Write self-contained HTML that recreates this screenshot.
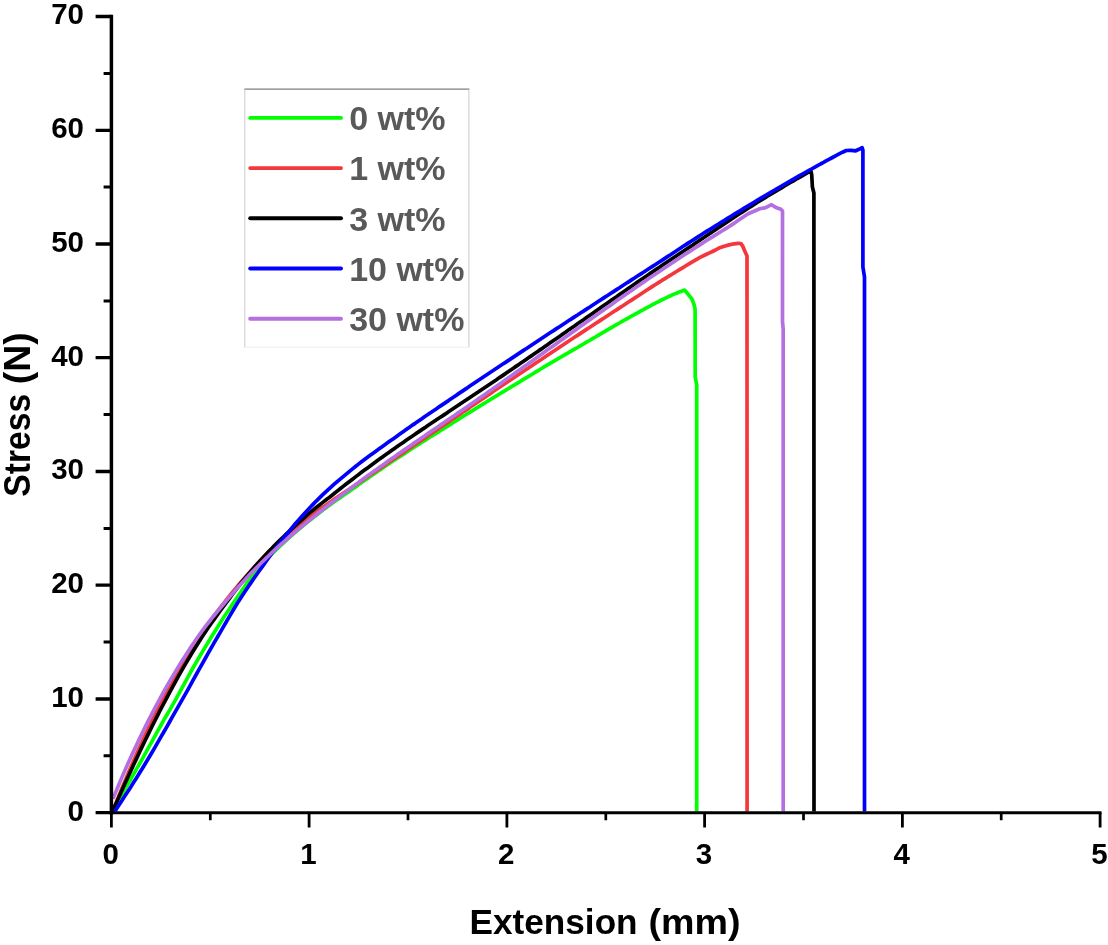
<!DOCTYPE html>
<html lang="en"><head><meta charset="utf-8"><title>Stress vs Extension</title>
<style>
html,body{margin:0;padding:0;background:#fff;}
svg{display:block;}
text{font-family:'Liberation Sans',Arial,Helvetica,sans-serif;font-weight:bold;}
.tick{font-size:29.8px;fill:#000;}
.title{font-size:35.8px;fill:#000;}
.ytitle{font-size:36.8px;fill:#000;}
.leg{font-size:33.4px;fill:#595959;}
</style></head><body>
<svg width="1108" height="945" viewBox="0 0 1108 945">
<rect width="1108" height="945" fill="#fff"/>

<defs><clipPath id="plotclip"><rect x="112.2" y="10" width="990" height="801.6"/></clipPath></defs>
<g fill="none" stroke-linejoin="round" stroke-linecap="butt" clip-path="url(#plotclip)">
<path d="M112.5,810.3 L115.5,805.3 L118.5,800.1 L121.5,795.0 L124.5,789.9 L127.5,784.8 L130.5,779.6 L133.5,774.4 L136.5,769.2 L139.5,763.9 L142.5,758.6 L145.5,753.2 L148.5,747.7 L151.5,742.3 L154.5,736.8 L157.5,731.4 L160.5,726.0 L163.5,720.7 L166.5,715.5 L169.5,710.3 L172.5,705.1 L175.5,699.9 L178.5,694.4 L181.5,688.8 L184.5,683.3 L187.5,677.8 L190.5,672.4 L193.5,667.0 L196.5,661.8 L199.5,656.7 L202.5,651.6 L205.5,646.6 L208.5,641.7 L211.5,636.8 L214.5,632.0 L217.5,627.2 L220.5,622.4 L223.5,617.8 L226.5,613.2 L229.5,608.7 L232.5,604.3 L235.5,599.9 L238.5,595.5 L241.5,591.1 L244.5,586.8 L247.5,582.7 L250.5,578.6 L253.5,574.7 L256.5,570.9 L259.5,567.2 L262.5,563.6 L265.5,560.4 L268.5,557.3 L271.5,554.3 L274.5,551.4 L277.5,548.5 L280.5,545.7 L283.5,542.9 L286.5,540.1 L289.5,537.4 L292.5,534.7 L295.5,532.1 L298.5,529.5 L301.5,527.0 L304.5,524.5 L307.5,522.1 L310.5,519.7 L313.5,517.3 L316.5,515.0 L319.5,512.7 L322.5,510.4 L325.5,508.2 L328.5,505.9 L331.5,503.8 L334.5,501.6 L337.5,499.5 L340.5,497.4 L343.5,495.3 L346.5,493.3 L349.5,491.2 L352.5,489.1 L355.5,486.9 L358.5,484.8 L361.5,482.6 L364.5,480.5 L367.5,478.4 L370.5,476.3 L373.5,474.2 L376.5,472.2 L379.5,470.1 L382.5,468.1 L385.5,466.0 L388.5,464.0 L391.5,462.0 L394.5,460.0 L397.5,458.0 L400.5,456.1 L403.5,454.1 L406.5,452.1 L409.5,450.2 L412.5,448.3 L415.5,446.3 L418.5,444.4 L421.5,442.5 L424.5,440.6 L427.5,438.7 L430.5,436.8 L433.5,434.9 L436.5,433.1 L439.5,431.2 L442.5,429.3 L445.5,427.5 L448.5,425.6 L451.5,423.7 L454.5,421.8 L457.5,419.9 L460.5,418.0 L463.5,416.2 L466.5,414.3 L469.5,412.4 L472.5,410.6 L475.5,408.7 L478.5,406.9 L481.5,405.0 L484.5,403.2 L487.5,401.3 L490.5,399.5 L493.5,397.7 L496.5,395.8 L499.5,394.0 L502.5,392.2 L505.5,390.4 L508.5,388.5 L511.5,386.7 L514.5,384.9 L517.5,383.1 L520.5,381.3 L523.5,379.4 L526.5,377.6 L529.5,375.8 L532.5,374.0 L535.5,372.2 L538.5,370.4 L541.5,368.5 L544.5,366.7 L547.5,364.9 L550.5,363.1 L553.5,361.4 L556.5,359.6 L559.5,357.9 L562.5,356.2 L565.5,354.4 L568.5,352.7 L571.5,350.9 L574.5,349.2 L577.5,347.5 L580.5,345.7 L583.5,344.0 L586.5,342.2 L589.5,340.5 L592.5,338.7 L595.5,337.0 L598.5,335.2 L601.5,333.4 L604.5,331.7 L607.5,329.9 L610.5,328.2 L613.5,326.4 L616.5,324.7 L619.5,323.0 L622.5,321.2 L625.5,319.5 L628.5,317.9 L631.5,316.2 L634.5,314.5 L637.5,312.9 L640.5,311.2 L643.5,309.6 L646.5,307.9 L649.5,306.3 L652.5,304.7 L655.5,303.1 L658.5,301.6 L661.5,300.0 L664.5,298.6 L667.5,297.1 L670.5,295.7 L673.5,294.4 L676.5,293.2 L679.5,291.9 L681.4,291.2 L684.6,290.1 L687.7,293.8 L692.0,299.1 L694.1,304.9 L695.1,309.2 L695.2,377.0 L696.7,385.0 L696.7,812.0" stroke="#00ff00" stroke-width="3.7"/>
<path d="M112.5,811.9 L115.5,804.2 L118.5,796.7 L121.5,789.3 L124.5,782.1 L127.5,774.9 L130.5,767.9 L133.5,761.0 L136.5,754.2 L139.5,747.5 L142.5,741.0 L145.5,734.5 L148.5,728.2 L151.5,722.0 L154.5,715.8 L157.5,709.8 L160.5,703.9 L163.5,698.1 L166.5,692.5 L169.5,686.9 L172.5,681.4 L175.5,676.0 L178.5,670.7 L181.5,665.5 L184.5,660.4 L187.5,655.5 L190.5,650.6 L193.5,645.8 L196.5,641.1 L199.5,636.4 L202.5,632.0 L205.5,627.7 L208.5,623.5 L211.5,619.3 L214.5,615.2 L217.5,611.3 L220.5,607.4 L223.5,603.6 L226.5,599.7 L229.5,596.0 L232.5,592.2 L235.5,588.6 L238.5,585.0 L241.5,581.5 L244.5,578.1 L247.5,574.7 L250.5,571.4 L253.5,568.0 L256.5,564.7 L259.5,561.4 L262.5,558.2 L265.5,555.1 L268.5,552.0 L271.5,549.0 L274.5,546.3 L277.5,543.5 L280.5,540.8 L283.5,538.2 L286.5,535.6 L289.5,533.1 L292.5,530.6 L295.5,528.1 L298.5,525.7 L301.5,523.3 L304.5,520.9 L307.5,518.6 L310.5,516.3 L313.5,514.1 L316.5,511.8 L319.5,509.6 L322.5,507.5 L325.5,505.4 L328.5,503.3 L331.5,501.2 L334.5,499.1 L337.5,497.1 L340.5,495.1 L343.5,493.1 L346.5,491.1 L349.5,489.1 L352.5,487.0 L355.5,485.0 L358.5,482.9 L361.5,480.9 L364.5,478.8 L367.5,476.8 L370.5,474.8 L373.5,472.7 L376.5,470.7 L379.5,468.7 L382.5,466.6 L385.5,464.6 L388.5,462.5 L391.5,460.5 L394.5,458.5 L397.5,456.4 L400.5,454.4 L403.5,452.4 L406.5,450.3 L409.5,448.3 L412.5,446.2 L415.5,444.2 L418.5,442.2 L421.5,440.1 L424.5,438.1 L427.5,436.1 L430.5,434.0 L433.5,432.0 L436.5,430.0 L439.5,428.0 L442.5,425.9 L445.5,423.9 L448.5,421.9 L451.5,419.8 L454.5,417.8 L457.5,415.7 L460.5,413.7 L463.5,411.6 L466.5,409.6 L469.5,407.6 L472.5,405.5 L475.5,403.5 L478.5,401.5 L481.5,399.4 L484.5,397.4 L487.5,395.4 L490.5,393.4 L493.5,391.3 L496.5,389.3 L499.5,387.3 L502.5,385.3 L505.5,383.3 L508.5,381.3 L511.5,379.2 L514.5,377.2 L517.5,375.2 L520.5,373.2 L523.5,371.2 L526.5,369.2 L529.5,367.2 L532.5,365.2 L535.5,363.2 L538.5,361.3 L541.5,359.3 L544.5,357.3 L547.5,355.3 L550.5,353.3 L553.5,351.3 L556.5,349.3 L559.5,347.3 L562.5,345.3 L565.5,343.3 L568.5,341.3 L571.5,339.3 L574.5,337.3 L577.5,335.4 L580.5,333.4 L583.5,331.4 L586.5,329.4 L589.5,327.5 L592.5,325.5 L595.5,323.5 L598.5,321.6 L601.5,319.6 L604.5,317.7 L607.5,315.7 L610.5,313.8 L613.5,311.8 L616.5,309.9 L619.5,307.9 L622.5,306.0 L625.5,304.0 L628.5,302.0 L631.5,300.1 L634.5,298.1 L637.5,296.2 L640.5,294.2 L643.5,292.3 L646.5,290.3 L649.5,288.4 L652.5,286.4 L655.5,284.5 L658.5,282.6 L661.5,280.7 L664.5,278.9 L667.5,277.0 L670.5,275.2 L673.5,273.3 L676.5,271.5 L679.5,269.7 L682.5,267.9 L685.5,266.0 L688.5,264.2 L691.5,262.4 L694.5,260.6 L697.5,258.8 L700.5,257.1 L703.5,255.7 L706.5,254.3 L709.5,252.9 L712.5,251.5 L715.5,250.0 L718.5,248.3 L719.0,248.0 L724.2,246.2 L729.0,244.9 L734.2,243.8 L738.0,243.3 L740.8,243.5 L742.6,245.8 L744.3,250.0 L747.0,256.0 L747.1,812.0" stroke="#f4373d" stroke-width="3.7"/>
<path d="M112.5,811.6 L115.5,804.8 L118.5,798.0 L121.5,791.3 L124.5,784.6 L127.5,778.0 L130.5,771.4 L133.5,765.0 L136.5,758.6 L139.5,752.2 L142.5,745.9 L145.5,739.7 L148.5,733.6 L151.5,727.5 L154.5,721.5 L157.5,715.6 L160.5,709.7 L163.5,704.0 L166.5,698.3 L169.5,692.6 L172.5,687.1 L175.5,681.6 L178.5,676.2 L181.5,670.9 L184.5,665.7 L187.5,660.6 L190.5,655.5 L193.5,650.5 L196.5,645.7 L199.5,640.9 L202.5,636.3 L205.5,631.7 L208.5,627.3 L211.5,623.0 L214.5,618.8 L217.5,614.6 L220.5,610.5 L223.5,606.5 L226.5,602.4 L229.5,598.3 L232.5,594.2 L235.5,590.3 L238.5,586.3 L241.5,582.5 L244.5,578.7 L247.5,575.1 L250.5,571.6 L253.5,568.2 L256.5,564.8 L259.5,561.5 L262.5,558.2 L265.5,555.0 L268.5,551.8 L271.5,548.7 L274.5,545.6 L277.5,542.6 L280.5,539.7 L283.5,536.7 L286.5,533.8 L289.5,531.0 L292.5,528.2 L295.5,525.4 L298.5,522.7 L301.5,520.0 L304.5,517.3 L307.5,514.7 L310.5,512.1 L313.5,509.7 L316.5,507.3 L319.5,505.0 L322.5,502.6 L325.5,500.3 L328.5,498.1 L331.5,495.7 L334.5,493.3 L337.5,490.9 L340.5,488.5 L343.5,486.1 L346.5,483.8 L349.5,481.5 L352.5,479.2 L355.5,476.9 L358.5,474.6 L361.5,472.3 L364.5,470.1 L367.5,467.9 L370.5,465.7 L373.5,463.5 L376.5,461.3 L379.5,459.1 L382.5,456.9 L385.5,454.8 L388.5,452.7 L391.5,450.5 L394.5,448.4 L397.5,446.3 L400.5,444.2 L403.5,442.2 L406.5,440.1 L409.5,438.0 L412.5,436.0 L415.5,433.9 L418.5,431.9 L421.5,429.9 L424.5,427.9 L427.5,425.8 L430.5,423.8 L433.5,421.8 L436.5,419.8 L439.5,417.8 L442.5,415.9 L445.5,413.9 L448.5,411.8 L451.5,409.8 L454.5,407.8 L457.5,405.8 L460.5,403.8 L463.5,401.8 L466.5,399.8 L469.5,397.8 L472.5,395.8 L475.5,393.8 L478.5,391.8 L481.5,389.7 L484.5,387.7 L487.5,385.7 L490.5,383.7 L493.5,381.7 L496.5,379.7 L499.5,377.6 L502.5,375.6 L505.5,373.6 L508.5,371.5 L511.5,369.5 L514.5,367.4 L517.5,365.4 L520.5,363.3 L523.5,361.3 L526.5,359.2 L529.5,357.1 L532.5,355.1 L535.5,353.0 L538.5,350.9 L541.5,348.9 L544.5,346.8 L547.5,344.7 L550.5,342.6 L553.5,340.5 L556.5,338.5 L559.5,336.4 L562.5,334.3 L565.5,332.2 L568.5,330.1 L571.5,328.0 L574.5,325.9 L577.5,323.8 L580.5,321.7 L583.5,319.7 L586.5,317.6 L589.5,315.5 L592.5,313.4 L595.5,311.3 L598.5,309.2 L601.5,307.1 L604.5,305.0 L607.5,302.9 L610.5,300.8 L613.5,298.7 L616.5,296.7 L619.5,294.6 L622.5,292.5 L625.5,290.4 L628.5,288.3 L631.5,286.3 L634.5,284.2 L637.5,282.1 L640.5,280.0 L643.5,278.0 L646.5,276.0 L649.5,273.9 L652.5,271.9 L655.5,269.9 L658.5,267.9 L661.5,265.8 L664.5,263.8 L667.5,261.8 L670.5,259.8 L673.5,257.8 L676.5,255.8 L679.5,253.8 L682.5,251.8 L685.5,249.8 L688.5,247.9 L691.5,245.9 L694.5,243.8 L697.5,241.8 L700.5,239.7 L703.5,237.7 L706.5,235.7 L709.5,233.7 L712.5,231.7 L715.5,229.7 L718.5,227.7 L721.5,225.7 L724.5,223.7 L727.5,221.7 L730.5,219.7 L733.5,217.8 L736.5,215.8 L739.5,213.8 L742.5,211.9 L745.5,210.0 L748.5,208.0 L751.5,206.1 L754.5,204.2 L757.5,202.3 L760.5,200.4 L763.5,198.6 L766.5,196.8 L769.5,194.9 L772.5,193.1 L775.5,191.3 L778.5,189.6 L781.5,187.8 L784.5,186.0 L787.5,184.2 L790.5,182.5 L793.5,180.8 L796.5,179.0 L799.5,177.3 L802.5,175.6 L803.3,175.1 L810.8,170.6 L811.7,174.7 L812.4,187.0 L813.9,193.0 L814.0,812.0" stroke="#000000" stroke-width="3.7"/>
<path d="M112.5,814.9 L115.5,810.4 L118.5,805.8 L121.5,801.2 L124.5,796.6 L127.5,792.0 L130.5,787.4 L133.5,782.6 L136.5,777.9 L139.5,773.1 L142.5,768.2 L145.5,763.3 L148.5,758.3 L151.5,753.2 L154.5,748.1 L157.5,742.9 L160.5,737.7 L163.5,732.5 L166.5,727.3 L169.5,722.0 L172.5,716.7 L175.5,711.4 L178.5,706.1 L181.5,700.8 L184.5,695.6 L187.5,690.3 L190.5,684.9 L193.5,679.4 L196.5,674.0 L199.5,668.7 L202.5,663.3 L205.5,658.0 L208.5,652.7 L211.5,647.4 L214.5,642.2 L217.5,637.0 L220.5,631.9 L223.5,626.7 L226.5,621.5 L229.5,616.4 L232.5,611.3 L235.5,606.3 L238.5,601.4 L241.5,596.8 L244.5,592.3 L247.5,587.8 L250.5,583.4 L253.5,579.0 L256.5,574.7 L259.5,570.5 L262.5,566.3 L265.5,562.1 L268.5,558.0 L271.5,553.9 L274.5,549.9 L277.5,546.0 L280.5,542.1 L283.5,538.2 L286.5,534.5 L289.5,530.8 L292.5,527.1 L295.5,523.5 L298.5,520.1 L301.5,516.7 L304.5,513.4 L307.5,510.2 L310.5,507.0 L313.5,503.9 L316.5,500.8 L319.5,497.9 L322.5,494.9 L325.5,492.1 L328.5,489.3 L331.5,486.6 L334.5,483.9 L337.5,481.3 L340.5,478.8 L343.5,476.3 L346.5,473.8 L349.5,471.3 L352.5,468.9 L355.5,466.5 L358.5,464.1 L361.5,461.8 L364.5,459.5 L367.5,457.3 L370.5,455.1 L373.5,452.9 L376.5,450.7 L379.5,448.5 L382.5,446.4 L385.5,444.3 L388.5,442.1 L391.5,440.0 L394.5,437.9 L397.5,435.7 L400.5,433.6 L403.5,431.5 L406.5,429.3 L409.5,427.2 L412.5,425.1 L415.5,423.1 L418.5,421.0 L421.5,418.9 L424.5,416.8 L427.5,414.8 L430.5,412.7 L433.5,410.7 L436.5,408.7 L439.5,406.6 L442.5,404.6 L445.5,402.6 L448.5,400.6 L451.5,398.5 L454.5,396.5 L457.5,394.4 L460.5,392.4 L463.5,390.4 L466.5,388.4 L469.5,386.3 L472.5,384.3 L475.5,382.3 L478.5,380.3 L481.5,378.3 L484.5,376.3 L487.5,374.3 L490.5,372.3 L493.5,370.3 L496.5,368.3 L499.5,366.3 L502.5,364.3 L505.5,362.4 L508.5,360.4 L511.5,358.4 L514.5,356.4 L517.5,354.4 L520.5,352.4 L523.5,350.4 L526.5,348.5 L529.5,346.5 L532.5,344.5 L535.5,342.5 L538.5,340.5 L541.5,338.5 L544.5,336.5 L547.5,334.5 L550.5,332.5 L553.5,330.6 L556.5,328.6 L559.5,326.7 L562.5,324.7 L565.5,322.8 L568.5,320.8 L571.5,318.9 L574.5,316.9 L577.5,315.0 L580.5,313.0 L583.5,311.1 L586.5,309.1 L589.5,307.2 L592.5,305.2 L595.5,303.3 L598.5,301.3 L601.5,299.4 L604.5,297.4 L607.5,295.5 L610.5,293.5 L613.5,291.6 L616.5,289.6 L619.5,287.7 L622.5,285.7 L625.5,283.8 L628.5,281.9 L631.5,279.9 L634.5,278.0 L637.5,276.0 L640.5,274.1 L643.5,272.2 L646.5,270.2 L649.5,268.3 L652.5,266.4 L655.5,264.5 L658.5,262.5 L661.5,260.6 L664.5,258.6 L667.5,256.6 L670.5,254.7 L673.5,252.7 L676.5,250.8 L679.5,248.8 L682.5,246.8 L685.5,244.9 L688.5,242.9 L691.5,241.0 L694.5,239.1 L697.5,237.1 L700.5,235.2 L703.5,233.3 L706.5,231.4 L709.5,229.6 L712.5,227.7 L715.5,225.8 L718.5,224.0 L721.5,222.1 L724.5,220.3 L727.5,218.4 L730.5,216.6 L733.5,214.7 L736.5,212.9 L739.5,211.1 L742.5,209.2 L745.5,207.4 L748.5,205.6 L751.5,203.8 L754.5,202.0 L757.5,200.2 L760.5,198.4 L763.5,196.6 L766.5,194.9 L769.5,193.1 L772.5,191.3 L775.5,189.6 L778.5,187.8 L781.5,186.1 L784.5,184.3 L787.5,182.6 L790.5,180.9 L793.5,179.1 L796.5,177.4 L799.5,175.7 L802.5,174.0 L805.5,172.3 L808.5,170.7 L811.5,169.0 L814.5,167.3 L817.5,165.7 L820.5,164.0 L823.5,162.4 L826.5,160.7 L829.5,159.1 L832.5,157.5 L835.5,155.9 L838.2,154.4 L842.5,152.2 L846.3,150.5 L851.0,150.4 L855.7,150.8 L859.0,149.3 L862.1,147.7 L862.9,150.0 L862.9,267.0 L864.5,277.0 L864.5,812.0" stroke="#0000ff" stroke-width="3.7"/>
<path d="M112.9,798.9 L115.9,791.6 L118.9,784.5 L121.9,777.4 L124.9,770.5 L127.9,763.8 L130.9,757.1 L133.9,750.6 L136.9,744.2 L139.9,737.9 L142.9,731.7 L145.9,725.6 L148.9,719.7 L151.9,713.8 L154.9,708.1 L157.9,702.5 L160.9,697.0 L163.9,691.5 L166.9,686.2 L169.9,681.0 L172.9,675.9 L175.9,670.9 L178.9,665.9 L181.9,661.1 L184.9,656.4 L187.9,651.7 L190.9,647.1 L193.9,642.7 L196.9,638.3 L199.9,634.0 L202.9,629.9 L205.9,625.9 L208.9,622.0 L211.9,618.2 L214.9,614.5 L217.9,610.8 L220.9,607.2 L223.9,603.7 L226.9,600.1 L229.9,596.6 L232.9,593.1 L235.9,589.6 L238.9,586.3 L241.9,582.9 L244.9,579.7 L247.9,576.5 L250.9,573.3 L253.9,570.2 L256.9,567.2 L259.9,564.2 L262.9,561.2 L265.9,558.3 L268.9,555.5 L271.9,552.7 L274.9,549.9 L277.9,547.1 L280.9,544.4 L283.9,541.8 L286.9,539.1 L289.9,536.5 L292.9,533.9 L295.9,531.4 L298.9,528.9 L301.9,526.4 L304.9,523.9 L307.9,521.4 L310.9,519.0 L313.9,516.6 L316.9,514.2 L319.9,511.8 L322.9,509.5 L325.9,507.1 L328.9,504.8 L331.9,502.5 L334.9,500.2 L337.9,497.9 L340.9,495.7 L343.9,493.4 L346.9,491.1 L349.9,488.9 L352.9,486.7 L355.9,484.4 L358.9,482.2 L361.9,480.0 L364.9,477.8 L367.9,475.6 L370.9,473.5 L373.9,471.3 L376.9,469.2 L379.9,467.0 L382.9,464.9 L385.9,462.7 L388.9,460.6 L391.9,458.5 L394.9,456.4 L397.9,454.3 L400.9,452.2 L403.9,450.1 L406.9,448.1 L409.9,446.0 L412.9,443.9 L415.9,441.9 L418.9,439.8 L421.9,437.7 L424.9,435.7 L427.9,433.6 L430.9,431.6 L433.9,429.5 L436.9,427.5 L439.9,425.4 L442.9,423.4 L445.9,421.3 L448.9,419.3 L451.9,417.2 L454.9,415.2 L457.9,413.1 L460.9,411.0 L463.9,409.0 L466.9,406.9 L469.9,404.8 L472.9,402.8 L475.9,400.7 L478.9,398.6 L481.9,396.5 L484.9,394.4 L487.9,392.3 L490.9,390.2 L493.9,388.1 L496.9,386.0 L499.9,383.9 L502.9,381.7 L505.9,379.6 L508.9,377.5 L511.9,375.4 L514.9,373.2 L517.9,371.1 L520.9,369.0 L523.9,366.8 L526.9,364.7 L529.9,362.5 L532.9,360.4 L535.9,358.2 L538.9,356.1 L541.9,353.9 L544.9,351.8 L547.9,349.6 L550.9,347.5 L553.9,345.4 L556.9,343.2 L559.9,341.1 L562.9,338.9 L565.9,336.8 L568.9,334.7 L571.9,332.5 L574.9,330.4 L577.9,328.2 L580.9,326.1 L583.9,324.0 L586.9,321.8 L589.9,319.7 L592.9,317.6 L595.9,315.5 L598.9,313.3 L601.9,311.2 L604.9,309.1 L607.9,307.0 L610.9,304.9 L613.9,302.7 L616.9,300.6 L619.9,298.5 L622.9,296.4 L625.9,294.3 L628.9,292.2 L631.9,290.2 L634.9,288.1 L637.9,286.0 L640.9,283.9 L643.9,281.9 L646.9,279.8 L649.9,277.8 L652.9,275.8 L655.9,273.7 L658.9,271.7 L661.9,269.7 L664.9,267.7 L667.9,265.7 L670.9,263.7 L673.9,261.7 L676.9,259.7 L679.9,257.7 L682.9,255.8 L685.9,253.8 L688.9,251.9 L691.9,249.9 L694.9,248.0 L697.9,246.1 L700.9,244.1 L703.9,242.2 L706.9,240.3 L709.9,238.4 L712.9,236.6 L715.9,234.7 L718.9,232.8 L721.9,231.0 L724.9,229.1 L727.9,227.3 L730.9,225.4 L733.9,223.4 L736.9,221.3 L739.9,219.3 L742.9,217.3 L745.9,215.3 L748.2,213.8 L754.0,211.2 L759.8,208.7 L765.7,207.6 L771.5,204.7 L776.1,207.6 L780.8,209.3 L782.5,211.1 L782.5,322.0 L783.2,329.0 L783.2,812.0" stroke="#b46fe0" stroke-width="3.7"/>
</g>
<g stroke="#000" fill="none" stroke-linecap="butt">
<path d="M111.4,14.8 V814.5" stroke-width="3.5"/>
<path d="M109.7,812.7 H1101.5" stroke-width="3.1"/>
<path d="M95.6,812.7H111.4M95.6,699.0H111.4M95.6,585.2H111.4M95.6,471.5H111.4M95.6,357.7H111.4M95.6,244.0H111.4M95.6,130.3H111.4M95.6,16.5H111.4" stroke-width="3.3"/>
<path d="M103.6,755.8H111.4M103.6,642.1H111.4M103.6,528.4H111.4M103.6,414.6H111.4M103.6,300.9H111.4M103.6,187.1H111.4M103.6,73.4H111.4" stroke-width="3.0"/>
<path d="M111.4,812.7V827.6M309.1,812.7V827.6M506.9,812.7V827.6M704.6,812.7V827.6M902.4,812.7V827.6M1100.1,812.7V827.6" stroke-width="2.8"/>
<path d="M210.3,812.7V820.2M408.0,812.7V820.2M605.8,812.7V820.2M803.5,812.7V820.2M1001.2,812.7V820.2" stroke-width="2.7"/>
</g>
<text class="tick" x="67.6" y="820.6" textLength="16.4" lengthAdjust="spacingAndGlyphs">0</text>
<text class="tick" x="51.2" y="706.9" textLength="32.8" lengthAdjust="spacingAndGlyphs">10</text>
<text class="tick" x="51.2" y="593.1" textLength="32.8" lengthAdjust="spacingAndGlyphs">20</text>
<text class="tick" x="51.2" y="479.4" textLength="32.8" lengthAdjust="spacingAndGlyphs">30</text>
<text class="tick" x="51.2" y="365.6" textLength="32.8" lengthAdjust="spacingAndGlyphs">40</text>
<text class="tick" x="51.2" y="251.9" textLength="32.8" lengthAdjust="spacingAndGlyphs">50</text>
<text class="tick" x="51.2" y="138.2" textLength="32.8" lengthAdjust="spacingAndGlyphs">60</text>
<text class="tick" x="51.2" y="24.4" textLength="32.8" lengthAdjust="spacingAndGlyphs">70</text>
<text class="tick" x="102.6" y="863.6" textLength="16.4" lengthAdjust="spacingAndGlyphs">0</text>
<text class="tick" x="300.3" y="863.6" textLength="16.4" lengthAdjust="spacingAndGlyphs">1</text>
<text class="tick" x="498.1" y="863.6" textLength="16.4" lengthAdjust="spacingAndGlyphs">2</text>
<text class="tick" x="695.8" y="863.6" textLength="16.4" lengthAdjust="spacingAndGlyphs">3</text>
<text class="tick" x="893.6" y="863.6" textLength="16.4" lengthAdjust="spacingAndGlyphs">4</text>
<text class="tick" x="1091.3" y="863.6" textLength="16.4" lengthAdjust="spacingAndGlyphs">5</text>
<text class="title" y="934.4"><tspan x="469.60" textLength="168.00" lengthAdjust="spacingAndGlyphs">Extension</tspan> <tspan x="648.50" textLength="92.00" lengthAdjust="spacingAndGlyphs">(mm)</tspan></text>
<text class="ytitle" transform="translate(30.0,496.8) rotate(-90)" y="0"><tspan x="0.00" textLength="103.00" lengthAdjust="spacingAndGlyphs">Stress</tspan> <tspan x="112.50" textLength="52.00" lengthAdjust="spacingAndGlyphs">(N)</tspan></text>
<g>
<rect x="244.8" y="89.1" width="224.1" height="258.1" fill="#fff" stroke="none"/>
<path d="M244.3,89.1H469.4" stroke="#7f7f7f" stroke-width="1.2" fill="none"/>
<path d="M244.8,89.5V347.2M468.9,89.5V347.2" stroke="#cfcfcf" stroke-width="1.1" fill="none"/>
<path d="M244.3,347.2H469.4" stroke="#ededed" stroke-width="1" fill="none"/>
<path d="M250.2,117.9H341" stroke="#00ff00" stroke-width="3.9" stroke-linecap="round" fill="none"/>
<text class="leg" x="349.2" y="129.8" textLength="96.4" lengthAdjust="spacingAndGlyphs">0 wt%</text>
<path d="M250.2,168.1H341" stroke="#f4373d" stroke-width="3.9" stroke-linecap="round" fill="none"/>
<text class="leg" x="349.2" y="180.2" textLength="96.4" lengthAdjust="spacingAndGlyphs">1 wt%</text>
<path d="M250.2,218.3H341" stroke="#000000" stroke-width="3.9" stroke-linecap="round" fill="none"/>
<text class="leg" x="349.2" y="230.5" textLength="96.4" lengthAdjust="spacingAndGlyphs">3 wt%</text>
<path d="M250.2,268.5H341" stroke="#0000ff" stroke-width="3.9" stroke-linecap="round" fill="none"/>
<text class="leg" x="349.2" y="280.9" textLength="115.2" lengthAdjust="spacingAndGlyphs">10 wt%</text>
<path d="M250.2,318.7H341" stroke="#b46fe0" stroke-width="3.9" stroke-linecap="round" fill="none"/>
<text class="leg" x="349.2" y="331.2" textLength="115.2" lengthAdjust="spacingAndGlyphs">30 wt%</text>
</g>
</svg>
</body></html>
